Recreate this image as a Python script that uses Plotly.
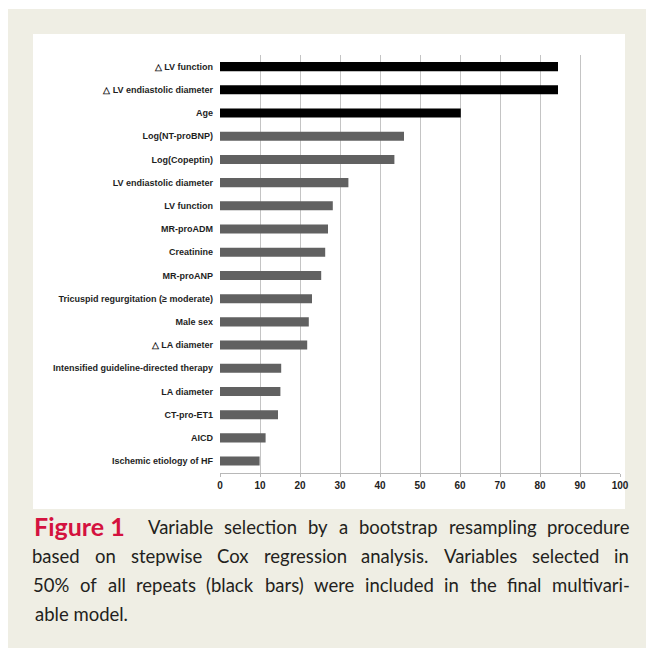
import plotly.graph_objects as go

# Variables and how often (%) each was selected across bootstrap repeats
variables = [
    "△ LV function",
    "△ LV endiastolic diameter",
    "Age",
    "Log(NT-proBNP)",
    "Log(Copeptin)",
    "LV endiastolic diameter",
    "LV function",
    "MR-proADM",
    "Creatinine",
    "MR-proANP",
    "Tricuspid regurgitation (≥ moderate)",
    "Male sex",
    "△ LA diameter",
    "Intensified guideline-directed therapy",
    "LA diameter",
    "CT-pro-ET1",
    "AICD",
    "Ischemic etiology of HF",
]
selection_pct = [84.5, 84.5, 60.2, 46.0, 43.6, 32.1, 28.2, 27.0, 26.3, 25.3,
                 23.0, 22.2, 21.8, 15.3, 15.1, 14.5, 11.4, 9.9]
x_ticks = list(range(0, 101, 10))
threshold = 50

caption_label = "Figure 1"
caption_lines = [
    "Variable selection by a bootstrap resampling procedure",
    "based on stepwise Cox regression analysis. Variables selected in",
    "50% of all repeats (black bars) were included in the final multivari-",
    "able model.",
]

W, H = 646, 648
bar_colors = ["#000000" if v >= threshold else "#616161" for v in selection_pct]


def px(x):
    return x / W


def py(y):
    return 1 - y / H


fig = go.Figure(
    go.Bar(
        x=selection_pct,
        y=variables,
        orientation="h",
        marker=dict(color=bar_colors, line=dict(width=0)),
        width=0.39,
        hoverinfo="x+y",
    )
)

# page background: beige panel with a white chart card
shapes = [
    dict(type="rect", xref="paper", yref="paper", x0=px(8), x1=1, y0=0, y1=py(9),
         fillcolor="#efeee4", line=dict(width=0), layer="below"),
    dict(type="rect", xref="paper", yref="paper", x0=px(33), x1=px(625), y0=py(509), y1=py(34),
         fillcolor="#ffffff", line=dict(width=0), layer="below"),
]

# approximate advance widths (em) of the caption face, used to justify lines
EM = {
    "a": .49, "b": .55, "c": .45, "d": .55, "e": .51, "f": .32, "g": .50, "h": .55,
    "i": .24, "j": .24, "k": .50, "l": .24, "m": .83, "n": .55, "o": .55, "p": .55,
    "q": .55, "r": .36, "s": .42, "t": .35, "u": .55, "v": .50, "w": .76, "x": .48,
    "y": .50, "z": .44, "V": .66, "C": .64, "%": .80, "(": .30, ")": .30, ".": .22,
    "-": .33, "0": .58, "5": .58,
}
body_size = 18.5
body_font = dict(family="Lato", size=body_size, color="#231f20")
line_y = [527, 556, 585, 614]
right = 629

annotations = []


def word_width(w):
    return sum(EM.get(c, .55) for c in w) * body_size


def justify(words, y, left):
    """Spread words between left and right edges, each centred on its slot."""
    widths = [word_width(w) for w in words]
    gap = (right - left - sum(widths)) / (len(widths) - 1)
    x = left
    for w, ww in zip(words, widths):
        annotations.append(dict(
            text=w, x=px(x + ww / 2), y=py(y), xref="paper", yref="paper",
            xanchor="center", yanchor="middle", showarrow=False, font=body_font,
        ))
        x += ww + gap


annotations.append(dict(
    text=f"<b>{caption_label}</b>", x=px(32), y=py(line_y[0] - 1), xref="paper", yref="paper",
    xanchor="left", yanchor="middle", showarrow=False,
    font=dict(family="Lato", size=25, color="#d4123f"),
))
justify(caption_lines[0].split(), line_y[0], 148)
justify(caption_lines[1].split(), line_y[1], 33)
justify(caption_lines[2].split(), line_y[2], 33)
annotations.append(dict(
    text=caption_lines[3], x=px(33), y=py(line_y[3]), xref="paper", yref="paper",
    xanchor="left", yanchor="middle", showarrow=False, font=body_font,
))

fig.update_layout(
    width=W,
    height=H,
    autosize=False,
    margin=dict(l=0, r=0, t=0, b=0, pad=0),
    paper_bgcolor="#ffffff",
    plot_bgcolor="#ffffff",
    showlegend=False,
    shapes=shapes,
    annotations=annotations,
    font=dict(family="Liberation Sans, Arial", color="#222222"),
    xaxis=dict(
        domain=[px(220), px(620)],
        range=[0, 100],
        automargin=False,
        tickvals=x_ticks,
        ticktext=[f"<b>{t}</b>" for t in x_ticks],
        tickfont=dict(size=10, color="#222222"),
        showgrid=True,
        gridcolor="#c4c4c4",
        gridwidth=1,
        zeroline=False,
        showline=True,
        linecolor="#b8b8b8",
        linewidth=1,
        ticks="outside",
        ticklen=3,
        tickcolor="#b8b8b8",
        fixedrange=True,
    ),
    yaxis=dict(
        domain=[py(472.7), py(55)],
        automargin=False,
        categoryorder="array",
        categoryarray=variables,
        autorange="reversed",
        tickvals=variables,
        ticktext=[f"<b>{v}</b>" for v in variables],
        tickfont=dict(size=9.0, color="#1e1e1e"),
        showgrid=False,
        zeroline=False,
        showline=False,
        ticks="",
        ticklabelstandoff=6,
        fixedrange=True,
    ),
)

fig.write_html(
    "out.html",
    config={"displayModeBar": False},
    post_script="document.body.style.margin='0';document.body.style.overflow='hidden';",
)
